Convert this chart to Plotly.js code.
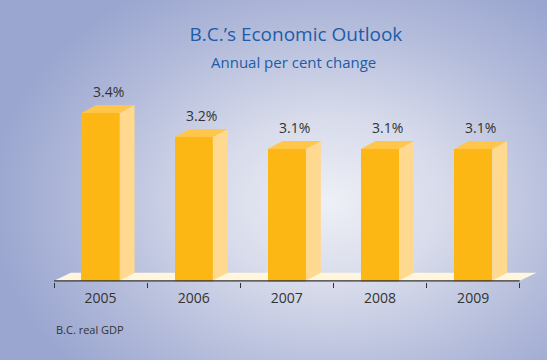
<!DOCTYPE html>
<html>
<head>
<meta charset="utf-8">
<script src="https://cdn.plot.ly/plotly-3.0.1.min.js"></script>
<style>
  html, body { margin: 0; padding: 0; }
  #chart {
    width: 547px; height: 360px;
    background: radial-gradient(ellipse 62% 70% at 60% 56%, #EEF0F6 0%, #D6DAEA 35%, #B4BCDB 70%, #9AA6D0 100%);
  }
</style>
</head>
<body>
<div id="chart"></div>
<script>
// ---- data ----
const years = ['2005', '2006', '2007', '2008', '2009'];
const growth = [3.4, 3.2, 3.1, 3.1, 3.1];
const valueLabels = ['3.4%', '3.2%', '3.1%', '3.1%', '3.1%'];
const footnote = 'B.C. real GDP';
const titleText = 'B.C.\u2019s Economic Outlook';
const subtitleText = 'Annual per cent change';

// ---- style ----
const baseVal = 2;          // axis floor value
const barW = 0.41;          // front face width (category units)
const depthX = 0.16;        // 3D depth offset x (category units)
const depthY = 0.067;       // 3D depth offset y (value units)
const floorDX = 0.18;
const frontColor = '#FDB714';
const sideColor = '#FFD98F';
const topColor = '#FFC64A';
const floorColor = '#FFF6DD';
const textColor = '#333333';
const blue = '#1D5CA8';

const idx = years.map((_, i) => i);
const n = years.length;

// side and top faces
const sx = [], sy = [], tx = [], ty = [];
idx.forEach((i) => {
  const v = growth[i];
  const r = i + barW / 2, l = i - barW / 2;
  sx.push(r, r + depthX, r + depthX, r, r, null);
  sy.push(baseVal, baseVal + depthY, v + depthY, v, baseVal, null);
  tx.push(l, r, r + depthX, l + depthX, l, null);
  ty.push(v, v, v + depthY, v + depthY, v, null);
});

const traces = [
  {
    type: 'bar', x: idx, y: growth, width: barW,
    marker: { color: frontColor, line: { width: 0 } },
    hoverinfo: 'skip', showlegend: false
  },
  {
    type: 'scatter', mode: 'lines', x: sx, y: sy, fill: 'toself',
    fillcolor: sideColor, line: { width: 0, color: sideColor },
    hoverinfo: 'skip', showlegend: false
  },
  {
    type: 'scatter', mode: 'lines', x: tx, y: ty, fill: 'toself',
    fillcolor: topColor, line: { width: 0, color: topColor },
    hoverinfo: 'skip', showlegend: false
  },
  {
    type: 'scatter', mode: 'lines', x: [-0.5, n - 0.5], y: [baseVal, baseVal],
    line: { width: 1.3, color: textColor },
    hoverinfo: 'skip', showlegend: false
  }
];

const annotations = idx.map((i) => ({
  x: i + depthX / 2, y: growth[i] + depthY, xref: 'x', yref: 'y',
  text: valueLabels[i], showarrow: false, yanchor: 'bottom', yshift: 2,
  font: { family: 'Open Sans, sans-serif', size: 14, color: textColor }
}));
annotations.push({
  x: 0.49, y: 1.14, xref: 'paper', yref: 'paper', text: subtitleText,
  showarrow: false, xanchor: 'center', yanchor: 'middle',
  font: { family: 'Open Sans, sans-serif', size: 15, color: blue }
});
annotations.push({
  x: 0, y: -0.247, xref: 'paper', yref: 'paper', text: footnote,
  showarrow: false, xanchor: 'left', yanchor: 'middle',
  font: { family: 'Open Sans, sans-serif', size: 11, color: textColor }
});

const floorPath = 'M ' + (-0.5) + ' ' + baseVal +
  ' L ' + (n - 0.5) + ' ' + baseVal +
  ' L ' + (n - 0.5 + floorDX) + ' ' + (baseVal + depthY) +
  ' L ' + (-0.5 + floorDX) + ' ' + (baseVal + depthY) + ' Z';

const layout = {
  width: 547, height: 360,
  margin: { l: 54, r: 4, t: 89, b: 78 },
  paper_bgcolor: 'rgba(0,0,0,0)',
  plot_bgcolor: 'rgba(0,0,0,0)',
  title: {
    text: titleText, x: 0.541, xref: 'container', xanchor: 'center',
    y: 1 - 34 / 360, yref: 'container', yanchor: 'middle',
    font: { family: 'Open Sans, sans-serif', size: 19, color: blue }
  },
  xaxis: {
    range: [-0.5, n - 0.5 + 0.25], showgrid: false, zeroline: false, showline: false,
    tickmode: 'array', tickvals: idx, ticktext: years, ticks: '',
    ticklabelstandoff: 6,
    tickfont: { family: 'Open Sans, sans-serif', size: 14, color: textColor },
    minor: { tickmode: 'array', tickvals: idx.map(i => i - 0.5).concat([n - 0.5]),
             ticks: 'outside', ticklen: 5, tickcolor: textColor, tickwidth: 1, showgrid: false },
    fixedrange: true
  },
  yaxis: {
    range: [baseVal - 0.01, 3.6], visible: false, fixedrange: true
  },
  shapes: [{
    type: 'path', xref: 'x', yref: 'y', path: floorPath, layer: 'below',
    fillcolor: floorColor, line: { width: 0 }
  }],
  annotations: annotations,
  bargap: 0
};

Plotly.newPlot('chart', traces, layout, { displayModeBar: false, staticPlot: true });
</script>
</body>
</html>
